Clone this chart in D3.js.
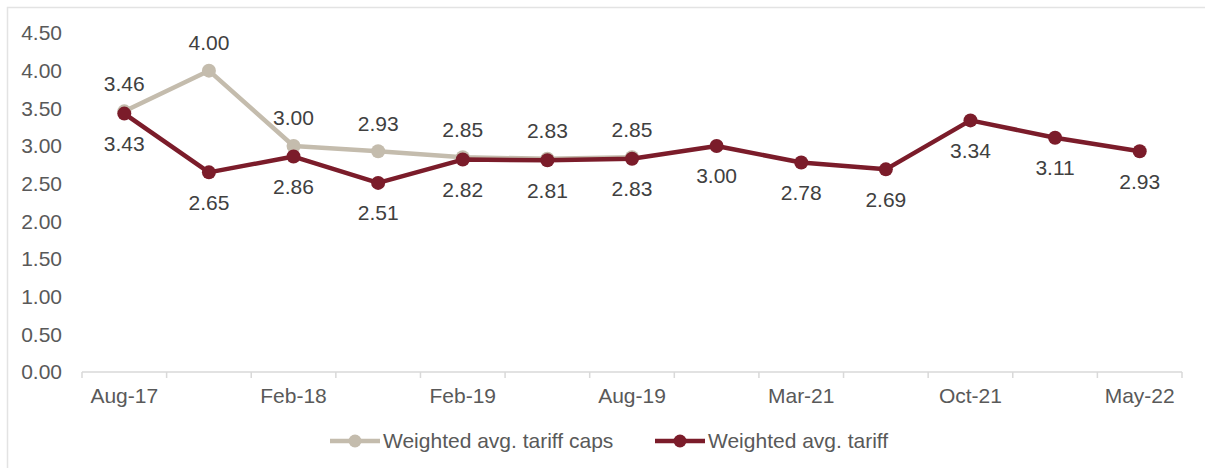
<!DOCTYPE html>
<html>
<head>
<meta charset="utf-8">
<script src="https://cdn.jsdelivr.net/npm/d3@7"></script>
<style>
  body { margin: 0; background: #fff; }
  text { font-family: "Liberation Sans", Arial, sans-serif; }
</style>
</head>
<body>
<svg width="1205" height="468"></svg>
<script>
// categories (only every other one is labelled on the axis)
var categories = ["Aug-17", "c2", "Feb-18", "c4", "Feb-19", "c6", "Aug-19", "c8", "Mar-21", "c10", "Oct-21", "c12", "May-22"];
var tickLabels = ["Aug-17", "", "Feb-18", "", "Feb-19", "", "Aug-19", "", "Mar-21", "", "Oct-21", "", "May-22"];
var capsValues = [3.46, 4.00, 3.00, 2.93, 2.85, 2.83, 2.85];
var tariffValues = [3.43, 2.65, 2.86, 2.51, 2.82, 2.81, 2.83, 3.00, 2.78, 2.69, 3.34, 3.11, 2.93];
var yTicks = [0, 0.5, 1, 1.5, 2, 2.5, 3, 3.5, 4, 4.5];

var svg = d3.select("svg"),
    margin = {top: 33, right: 23, bottom: 96, left: 82},
    width = 1205 - margin.left - margin.right,
    height = 468 - margin.top - margin.bottom,
    g = svg.append("g").attr("transform", "translate(" + margin.left + "," + margin.top + ")");

// light frame
svg.append("rect")
    .attr("x", 7.5).attr("y", 7.5)
    .attr("width", 1205).attr("height", 470)
    .attr("fill", "none")
    .attr("stroke", "#e3e3e3")
    .attr("stroke-width", 1.5);

var x = d3.scaleBand()
    .domain(categories)
    .range([0, width]);

var y = d3.scaleLinear()
    .domain([0, 4.5])
    .range([height, 0]);

var cx = function(i) { return x(categories[i]) + x.bandwidth() / 2; };

// y axis labels only
var yAxis = g.append("g")
    .call(d3.axisLeft(y).tickValues(yTicks).tickFormat(d3.format(".2f")).tickSize(0).tickPadding(20));
yAxis.select(".domain").remove();
yAxis.selectAll("text")
    .attr("fill", "#595959")
    .style("font-size", "21px");

// x axis: line with ticks at band edges
var xg = g.append("g").attr("transform", "translate(0," + height + ")");
xg.append("line")
    .attr("x1", 0).attr("x2", width)
    .attr("stroke", "#d9d9d9").attr("stroke-width", 1.5);
xg.selectAll(".tk")
    .data(d3.range(categories.length + 1))
    .enter().append("line")
    .attr("x1", function(i) { return i < categories.length ? x(categories[i]) : width; })
    .attr("x2", function(i) { return i < categories.length ? x(categories[i]) : width; })
    .attr("y1", 0).attr("y2", 6)
    .attr("stroke", "#d9d9d9").attr("stroke-width", 1.5);
xg.selectAll(".lbl")
    .data(tickLabels)
    .enter().append("text")
    .attr("x", function(d, i) { return cx(i); })
    .attr("y", 31)
    .attr("text-anchor", "middle")
    .attr("fill", "#595959")
    .style("font-size", "21px")
    .text(function(d) { return d; });

var line = d3.line()
    .x(function(d, i) { return cx(i); })
    .y(function(d) { return y(d); });

var series = [
  {name: "Weighted avg. tariff caps", values: capsValues, color: "#c4bcad", labelDy: -28},
  {name: "Weighted avg. tariff", values: tariffValues, color: "#7b1c2a", labelDy: 30}
];

series.forEach(function(s) {
  g.append("path")
      .datum(s.values)
      .attr("fill", "none")
      .attr("stroke", s.color)
      .attr("stroke-width", 4.5)
      .attr("stroke-linejoin", "round")
      .attr("d", line);
  g.selectAll(null)
      .data(s.values)
      .enter().append("circle")
      .attr("cx", function(d, i) { return cx(i); })
      .attr("cy", function(d) { return y(d); })
      .attr("r", 7)
      .attr("fill", s.color);
});

series.forEach(function(s) {
  g.selectAll(null)
      .data(s.values)
      .enter().append("text")
      .attr("x", function(d, i) { return cx(i); })
      .attr("y", function(d) { return y(d) + s.labelDy; })
      .attr("dy", "0.35em")
      .attr("text-anchor", "middle")
      .attr("fill", "#404040")
      .style("font-size", "21px")
      .text(function(d) { return d.toFixed(2); });
});

// legend
var legend = svg.append("g").attr("transform", "translate(0,441)");
var legendX = [330, 655];
series.forEach(function(s, i) {
  var lg = legend.append("g").attr("transform", "translate(" + legendX[i] + ",0)");
  lg.append("line").attr("x1", 0).attr("x2", 50)
      .attr("stroke", s.color).attr("stroke-width", 4.5);
  lg.append("circle").attr("cx", 25).attr("r", 6.5).attr("fill", s.color);
  lg.append("text").attr("x", 53).attr("dy", "0.35em")
      .attr("fill", "#595959")
      .style("font-size", "21px")
      .text(s.name);
});
</script>
</body>
</html>
